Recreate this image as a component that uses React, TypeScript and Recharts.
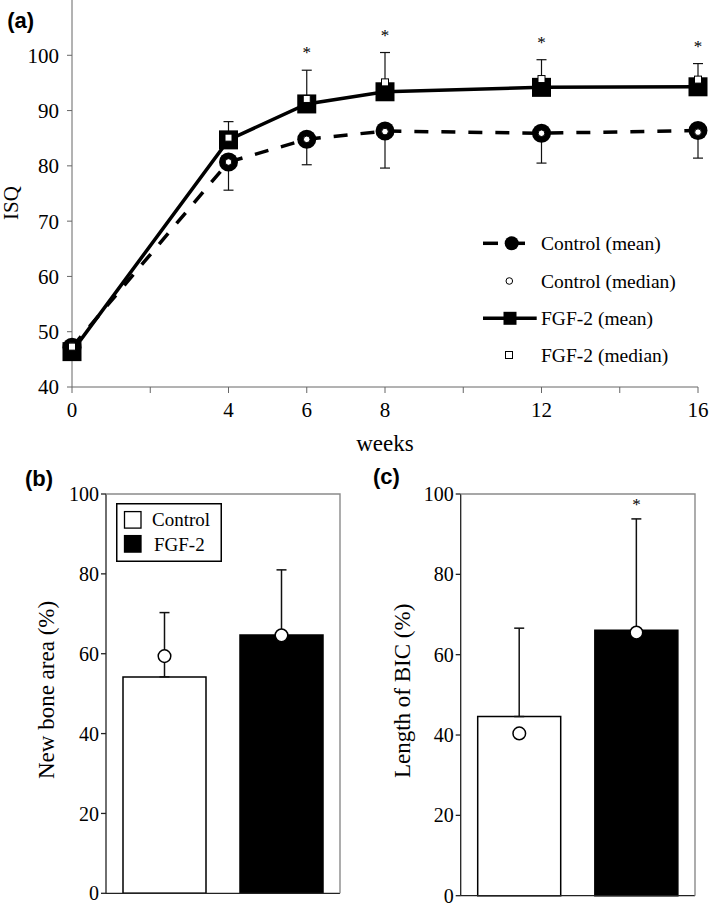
import React from 'react';
import { ComposedChart, Line, Scatter, XAxis, YAxis, ErrorBar, Legend, Bar, Cell, Label } from 'recharts';

const SERIF = "'Liberation Serif', 'Times New Roman', serif";
const SANS = "'Liberation Sans', Arial, sans-serif";

// ---------- (a) ISQ over time ----------
const weeks = [0, 4, 6, 8, 12, 16];
const controlMean = [47.2, 80.7, 84.8, 86.3, 85.9, 86.4];
const controlSD = [0.5, 5.1, 4.6, 6.7, 5.4, 5.0];
const controlMedian = [47.5, 80.7, 84.8, 86.2, 85.9, 86.1];
const fgfMean = [46.4, 84.7, 91.2, 93.4, 94.2, 94.3];
const fgfSD = [0.5, 3.3, 6.1, 7.1, 5.0, 4.2];
const fgfMedian = [47.3, 85.1, 92.1, 95.1, 95.7, 95.6];
const isqSignificant = [false, false, true, true, true, true];
const weekTicks = [0, 2, 4, 6, 8, 10, 12, 14, 16];
const weekTickLabels = [0, 4, 6, 8, 12, 16];
const isqTicks = [40, 50, 60, 70, 80, 90, 100];
const isqLegend = ['Control (mean)', 'Control (median)', 'FGF-2 (mean)', 'FGF-2 (median)'];

// ---------- (b) new bone area, (c) BIC ----------
const groups = ['Control', 'FGF-2'];
const groupFill = ['#ffffff', '#000000'];
const newBoneMean = [54.2, 64.7];
const newBoneSD = [16.1, 16.3];
const newBoneMedian = [59.4, 64.6];
const bicMean = [44.6, 66.1];
const bicSD = [22.0, 27.7];
const bicMedian = [40.4, 65.5];
const bicSignificant = [false, true];
const percentTicks = [0, 20, 40, 60, 80, 100];

const isqData = weeks.map((w, i) => ({
  week: w,
  ctrl: controlMean[i],
  ctrlErr: [controlSD[i], 0],
  fgf: fgfMean[i],
  fgfErr: [0, fgfSD[i]],
  ctrlMed: controlMedian[i],
  fgfMed: fgfMedian[i],
  star: isqSignificant[i] ? fgfMean[i] + fgfSD[i] : null,
}));
const isqStars = isqData.filter((d) => d.star !== null);

const boneData = groups.map((g, i) => ({ group: g, mean: newBoneMean[i], err: [0, newBoneSD[i]], median: newBoneMedian[i], star: null as number | null }));
const bicData = groups.map((g, i) => ({
  group: g,
  mean: bicMean[i],
  err: [0, bicSD[i]],
  median: bicMedian[i],
  star: bicSignificant[i] ? bicMean[i] + bicSD[i] : null,
}));

const RotLabel = (props: any) => {
  const { viewBox, value, ox = 0, oy = 0, fs = 23 } = props;
  if (!viewBox) return null;
  const x = viewBox.x + ox;
  const y = viewBox.y + viewBox.height / 2 + oy;
  return (
    <text x={x} y={y} transform={`rotate(-90, ${x}, ${y})`} textAnchor="middle" dominantBaseline="central"
      fontSize={fs} fontFamily={SERIF} fill="#000">{value}</text>
  );
};

// y-axis title plus the grey top & right frame of the bar panels (from the y-axis viewBox: plot top/height)
const PanelTitleAndFrame = (props: any) => {
  const { viewBox, value, ox = 0, oy = 0, fs = 23, plotRight } = props;
  if (!viewBox) return null;
  const x = viewBox.x + ox;
  const y = viewBox.y + viewBox.height / 2 + oy;
  const left = viewBox.x + viewBox.width;
  const top = viewBox.y;
  const bottom = viewBox.y + viewBox.height;
  return (
    <g>
      <path d={`M${left},${top}H${plotRight}V${bottom}`} fill="none" stroke="#8a8a8a" strokeWidth={1.4} />
      <text x={x} y={y} transform={`rotate(-90, ${x}, ${y})`} textAnchor="middle" dominantBaseline="central"
        fontSize={fs} fontFamily={SERIF} fill="#000">{value}</text>
    </g>
  );
};

const CtrlMarker = (p: any) => <circle cx={p.cx} cy={p.cy} r={9.5} fill="#000" />;
const FgfMarker = (p: any) => <rect x={p.cx - 9.5} y={p.cy - 9.5} width={19} height={19} fill="#000" />;
const CtrlMedMarker = (p: any) => <circle cx={p.cx} cy={p.cy} r={3.3} fill="#fff" stroke="#000" strokeWidth={1} />;
const FgfMedMarker = (p: any) => <rect x={p.cx - 3.5} y={p.cy - 3.5} width={7} height={7} fill="#fff" stroke="#000" strokeWidth={1} />;
const StarMarker = (p: any) => (
  <text x={p.cx} y={p.cy - 12} textAnchor="middle" fontSize={17} fontFamily={SERIF} fill="#000">*</text>
);
const BarStar = (p: any) => {
  if (p.cy == null || !isFinite(p.cy) || p.payload?.star == null) return <g />;
  return <text x={p.cx} y={p.cy - 9} textAnchor="middle" fontSize={17} fontFamily={SERIF} fill="#000">*</text>;
};
const BarMedian = (p: any) => <circle cx={p.cx} cy={p.cy} r={6.3} fill="#fff" stroke="#000" strokeWidth={1.5} />;

const IsqLegendContent = () => {
  const rows = [15.3, 53, 90.3, 127];
  const tx = 63;
  return (
    <svg width={230} height={145} style={{ overflow: 'visible', display: 'block' }}>
      <line x1={5} x2={20} y1={rows[0]} y2={rows[0]} stroke="#000" strokeWidth={3.5} />
      <line x1={36} x2={47} y1={rows[0]} y2={rows[0]} stroke="#000" strokeWidth={3.5} />
      <circle cx={33.7} cy={rows[0]} r={7} fill="#000" />
      <circle cx={31.3} cy={rows[1]} r={3.3} fill="#fff" stroke="#000" strokeWidth={1} />
      <line x1={5} x2={58.7} y1={rows[2]} y2={rows[2]} stroke="#000" strokeWidth={3.5} />
      <rect x={25.5} y={rows[2] - 6.5} width={13} height={13} fill="#000" />
      <rect x={27.5} y={rows[3] - 3.5} width={7} height={7} fill="#fff" stroke="#000" strokeWidth={1} />
      {isqLegend.map((t, i) => (
        <text key={t} x={tx} y={rows[i] + 6.5} fontSize={19.5} fontFamily={SERIF} fill="#000">{t}</text>
      ))}
    </svg>
  );
};

const BarLegendContent = () => (
  <svg width={106} height={59} style={{ overflow: 'visible', display: 'block' }}>
    <rect x={0.75} y={0.75} width={104.5} height={57.5} fill="#fff" stroke="#000" strokeWidth={1.5} />
    {groups.map((g, i) => (
      <g key={g}>
        <rect x={8.5} y={8.6 + i * 24} width={16.5} height={16.5} fill={groupFill[i]} stroke="#000" strokeWidth={1.3} />
        <text x={36 + i * 2} y={23 + i * 24.5} fontSize={19} fontFamily={SERIF} fill="#000">{g}</text>
      </g>
    ))}
  </svg>
);

const IsqChart = () => (
  <ComposedChart width={709} height={460} data={isqData} margin={{ top: 0, right: 11, bottom: 43, left: 0 }}>
    <XAxis dataKey="week" type="number" domain={[0, 16]} ticks={weekTicks} interval={0} height={30}
      tickFormatter={(v: number) => (weekTickLabels.includes(v) ? String(v) : '')}
      tick={{ fontSize: 21, fill: '#000', fontFamily: SERIF }} tickSize={6} tickMargin={9}
      stroke="#666" axisLine={{ stroke: '#666' }} tickLine={{ stroke: '#666' }}>
      <Label value="weeks" position="bottom" offset={18} fontSize={23} fill="#000" fontFamily={SERIF} />
    </XAxis>
    <YAxis type="number" domain={[40, 110]} ticks={isqTicks} interval={0} width={72}
      tick={{ fontSize: 21, fill: '#000', fontFamily: SERIF }} tickSize={5} tickMargin={8}
      axisLine={{ stroke: '#666' }} tickLine={{ stroke: '#666' }}>
      <Label value="ISQ" content={<RotLabel ox={10.5} oy={9.5} fs={21} />} />
    </YAxis>
    <Line type="linear" dataKey="ctrl" stroke="#000" strokeWidth={3.5} strokeDasharray="14 13" dot={false} activeDot={false} isAnimationActive={false}>
      <ErrorBar dataKey="ctrlErr" width={5} stroke="#111" strokeWidth={1.2} direction="y" />
    </Line>
    <Line type="linear" dataKey="fgf" stroke="#000" strokeWidth={3.5} dot={false} activeDot={false} isAnimationActive={false}>
      <ErrorBar dataKey="fgfErr" width={5} stroke="#111" strokeWidth={1.2} direction="y" />
    </Line>
    <Scatter data={isqData} dataKey="ctrl" shape={CtrlMarker} isAnimationActive={false} />
    <Scatter data={isqData} dataKey="fgf" shape={FgfMarker} isAnimationActive={false} />
    <Scatter data={isqData} dataKey="ctrlMed" shape={CtrlMedMarker} isAnimationActive={false} />
    <Scatter data={isqData} dataKey="fgfMed" shape={FgfMedMarker} isAnimationActive={false} />
    <Scatter data={isqStars} dataKey="star" shape={StarMarker} isAnimationActive={false} />
    <Legend layout="horizontal" verticalAlign="middle" align="center" content={<IsqLegendContent />}
      wrapperStyle={{ position: 'absolute', left: 478, top: 228, width: 230, height: 145 }} />
  </ComposedChart>
);

const BarPanel = ({ data, width, yWidth, marginRight, marginBottom, title, labelX, labelY, showLegend, showStars }: any) => (
  <ComposedChart width={width} height={444} data={data} margin={{ top: 34, right: marginRight, bottom: marginBottom, left: 0 }}>
    <XAxis dataKey="group" type="category" allowDuplicatedCategory={false} height={1} tick={false} tickLine={false}
      axisLine={{ stroke: '#222', strokeWidth: 1.3 }} />
    <YAxis type="number" domain={[0, 100]} ticks={percentTicks} interval={0} width={yWidth}
      tick={{ fontSize: 20, fill: '#000', fontFamily: SERIF }} tickSize={5} tickMargin={2}
      axisLine={{ stroke: '#222', strokeWidth: 1.3 }} tickLine={{ stroke: '#222', strokeWidth: 1.3 }}>
      <Label value={title}
        content={<PanelTitleAndFrame ox={labelX} oy={labelY} fs={23} plotRight={width - marginRight} />} />
    </YAxis>
    <Bar dataKey="mean" barSize={83} stroke="#000" strokeWidth={1.5} isAnimationActive={false}>
      {data.map((d: any, i: number) => <Cell key={d.group} fill={groupFill[i]} />)}
      <ErrorBar dataKey="err" width={5} stroke="#111" strokeWidth={1.5} direction="y" />
    </Bar>
    <Scatter dataKey="median" shape={BarMedian} isAnimationActive={false} />
    {showStars && <Scatter dataKey="star" shape={BarStar} isAnimationActive={false} />}
    {showLegend && (
      <Legend layout="horizontal" verticalAlign="middle" align="center" content={<BarLegendContent />}
        wrapperStyle={{ position: 'absolute', left: 115.7, top: 43.3, width: 106, height: 59 }} />
    )}
  </ComposedChart>
);

export default function App() {
  return (
    <div style={{ position: 'absolute', left: 0, top: 0, width: 709, height: 904, background: '#fff', fontFamily: SERIF, overflow: 'hidden' }}>
      <div style={{ position: 'absolute', left: 0, top: 0 }}>
        <IsqChart />
      </div>
      <div style={{ position: 'absolute', left: 0, top: 460 }}>
        <BarPanel data={boneData} width={350} yWidth={106} marginRight={10} marginBottom={9.7}
          title="New bone area (%)" labelX={46.7} labelY={-3.7} showLegend showStars={false} />
      </div>
      <div style={{ position: 'absolute', left: 350, top: 460 }}>
        <BarPanel data={bicData} width={359} yWidth={110.7} marginRight={14} marginBottom={7.3}
          title="Length of BIC (%)" labelX={52.5} labelY={-4} showLegend={false} showStars />
      </div>
      <svg width={709} height={904} style={{ position: 'absolute', left: 0, top: 0, pointerEvents: 'none' }}>
        <text x={7.3} y={27.5} fontSize={22} fontWeight="bold" fontFamily={SANS} fill="#000">(a)</text>
        <text x={25} y={485.5} fontSize={22} fontWeight="bold" fontFamily={SANS} fill="#000">(b)</text>
        <text x={373} y={483.5} fontSize={22} fontWeight="bold" fontFamily={SANS} fill="#000">(c)</text>
      </svg>
    </div>
  );
}
